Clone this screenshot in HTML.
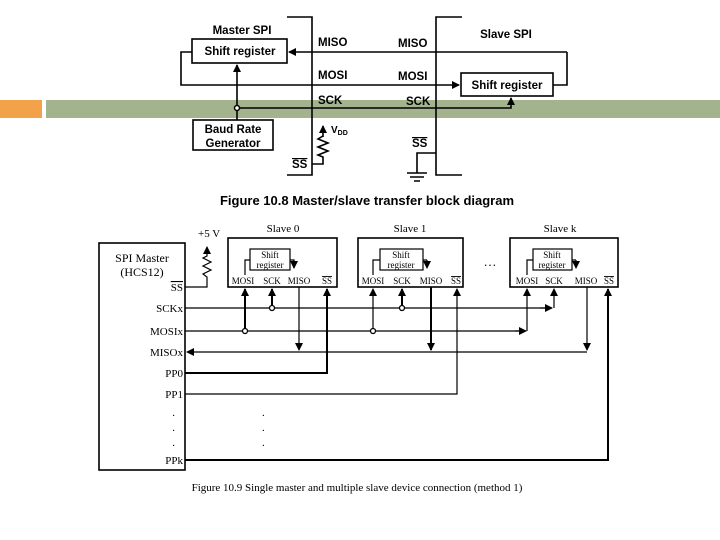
<!DOCTYPE html>
<html><head><style>body{margin:0;background:#fff}svg{display:block}</style></head><body>
<svg width="720" height="540" viewBox="0 0 720 540" xmlns="http://www.w3.org/2000/svg">
<defs>
<marker id="a" markerWidth="8" markerHeight="8" refX="7" refY="4" orient="auto" markerUnits="userSpaceOnUse"><path d="M0,0 L8,4 L0,8z" fill="#000"/></marker>
</defs>
<rect x="0" y="100" width="42" height="18" fill="#f2a34a"/>
<rect x="46" y="100" width="674" height="18" fill="#a3b38e"/>
<g fill="none" stroke="#000" stroke-width="1.6">
<path d="M287,17H312V175H287"/>
<path d="M462,17H436V175H462"/>
<rect x="192" y="39" width="95" height="24"/>
<rect x="461" y="73" width="92" height="23"/>
<rect x="193" y="120" width="80" height="30"/>
<path d="M567,52H289" marker-end="url(#a)"/>
<path d="M567,52V85H553"/>
<path d="M192,52H181V85H459" marker-end="url(#a)"/>
<path d="M237,108H511V98" marker-end="url(#a)"/>
<path d="M237,120V65" marker-end="url(#a)"/>
<path d="M323,137V126" marker-end="url(#a)"/>
<path d="M323,136L318,139L328,143L318,147L328,151L318,155L323,157V164H312"/>
<path d="M436,153H417V173"/>
<path d="M407,173H427M410,177H424M414,181H420"/>
</g>
<circle cx="237" cy="108" r="2.5" fill="#fff" stroke="#000" stroke-width="1.5"/>
<g font-family="Liberation Sans,sans-serif" font-weight="bold" font-size="11.5" fill="#000">
<text x="242" y="34" text-anchor="middle">Master SPI</text>
<text x="240" y="55" text-anchor="middle">Shift register</text>
<text x="507" y="89" text-anchor="middle">Shift register</text>
<text x="233" y="133" text-anchor="middle">Baud Rate</text>
<text x="233" y="147" text-anchor="middle">Generator</text>
<text x="506" y="38" text-anchor="middle">Slave SPI</text>
<text x="318" y="46">MISO</text><text x="398" y="47">MISO</text>
<text x="318" y="79">MOSI</text><text x="398" y="80">MOSI</text>
<text x="318" y="104">SCK</text><text x="406" y="105">SCK</text>
<text x="331" y="133" font-size="10">V<tspan font-size="7" dy="2">DD</tspan></text>
<text x="292" y="168" text-decoration="overline">SS</text>
<text x="412" y="147" text-decoration="overline">SS</text>
<text x="367" y="205" text-anchor="middle" font-weight="normal" font-size="13" style="font-weight:600">Figure 10.8 Master/slave transfer block diagram</text>
</g>
<g fill="none" stroke="#000" stroke-width="1.2">
<rect x="99" y="243" width="86" height="227" stroke-width="1.6"/>
<rect x="228" y="238" width="109" height="49" stroke-width="1.6"/>
<rect x="358" y="238" width="105" height="49" stroke-width="1.6"/>
<rect x="510" y="238" width="108" height="49" stroke-width="1.6"/>
<rect x="250" y="249" width="40" height="21"/>
<rect x="380" y="249" width="43" height="21"/>
<rect x="533" y="249" width="39" height="21"/>
<path d="M250,260H245V275M290,260H294V268" /><path d="M294,260V268" marker-end="url(#a)"/>
<path d="M380,260H373V275M423,260H427"/><path d="M427,260V268" marker-end="url(#a)"/>
<path d="M533,260H527V275M572,260H576"/><path d="M576,260V268" marker-end="url(#a)"/>
<path d="M185,287H207V277L203,274L211,270L203,266L211,262L203,258L207,256V247" marker-end="url(#a)"/>
<path d="M185,308H552"/><path d="M540,308H552" marker-end="url(#a)"/><path d="M554,308V289" marker-end="url(#a)"/>
<path d="M185,331H525"/><path d="M515,331H526" marker-end="url(#a)"/><path d="M527,331V289" marker-end="url(#a)"/>
<path d="M587,352H187" marker-end="url(#a)"/>
<path d="M245,331V289" stroke-width="2" marker-end="url(#a)"/>
<path d="M272,308V289" stroke-width="2" marker-end="url(#a)"/>
<path d="M299,287V350" marker-end="url(#a)"/>
<path d="M185,373H327V289" stroke-width="2" marker-end="url(#a)"/>
<path d="M373,331V289" marker-end="url(#a)"/>
<path d="M402,308V289" stroke-width="2" marker-end="url(#a)"/>
<path d="M431,287V350" stroke-width="2" marker-end="url(#a)"/>
<path d="M185,394H457V289" marker-end="url(#a)"/>
<path d="M587,287V350" marker-end="url(#a)"/>
<path d="M185,460H608V289" stroke-width="2" marker-end="url(#a)"/>
</g>
<g fill="#fff" stroke="#000" stroke-width="1.3">
<circle cx="245" cy="331" r="2.5"/><circle cx="272" cy="308" r="2.5"/>
<circle cx="373" cy="331" r="2.5"/><circle cx="402" cy="308" r="2.5"/>
</g>
<g font-family="Liberation Serif,serif" font-size="11" fill="#000">
<text x="142" y="262" text-anchor="middle" font-size="12">SPI Master</text>
<text x="142" y="276" text-anchor="middle" font-size="12">(HCS12)</text>
<g text-anchor="end">
<text x="183" y="291" text-decoration="overline">SS</text>
<text x="183" y="312">SCKx</text><text x="183" y="335">MOSIx</text><text x="183" y="356">MISOx</text>
<text x="183" y="377">PP0</text><text x="183" y="398">PP1</text>
<text x="175" y="416">.</text><text x="175" y="431">.</text><text x="175" y="446">.</text>
<text x="183" y="464">PPk</text>
</g>
<text x="262" y="416">.</text><text x="262" y="431">.</text><text x="262" y="446">.</text>
<text x="198" y="237">+5 V</text>
<text x="283" y="232" text-anchor="middle">Slave 0</text>
<text x="410" y="232" text-anchor="middle">Slave 1</text>
<text x="560" y="232" text-anchor="middle">Slave k</text>
<text x="490" y="266" text-anchor="middle" font-size="13">…</text>
<g font-size="9" text-anchor="middle">
<text x="270" y="258">Shift</text><text x="270" y="268">register</text>
<text x="401" y="258">Shift</text><text x="401" y="268">register</text>
<text x="552" y="258">Shift</text><text x="552" y="268">register</text>
<text x="243" y="284">MOSI</text><text x="272" y="284">SCK</text><text x="299" y="284">MISO</text><text x="327" y="284" text-decoration="overline">SS</text>
<text x="373" y="284">MOSI</text><text x="402" y="284">SCK</text><text x="431" y="284">MISO</text><text x="456" y="284" text-decoration="overline">SS</text>
<text x="527" y="284">MOSI</text><text x="554" y="284">SCK</text><text x="586" y="284">MISO</text><text x="609" y="284" text-decoration="overline">SS</text>
</g>
<text x="357" y="491" text-anchor="middle">Figure 10.9 Single master and multiple slave device connection (method 1)</text>
</g>
</svg>
</body></html>
